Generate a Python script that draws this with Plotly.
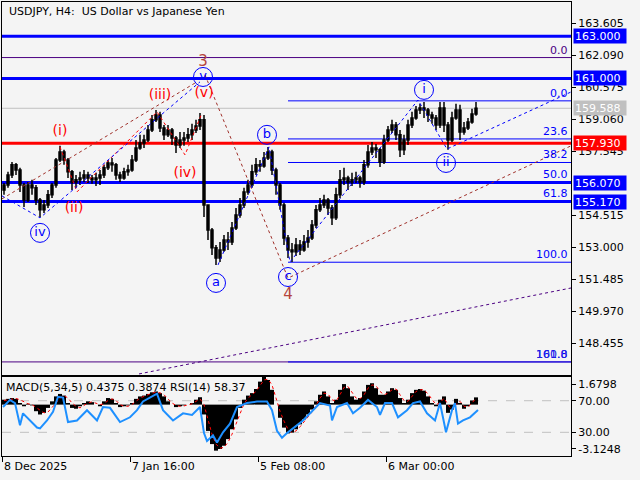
import plotly.graph_objects as go

# ---------------- data ----------------
opens = [155.72,155.96,156.43,156.91,156.67,155.96,155.25,155.96,155.82,155.25,
         154.78,155.01,155.49,155.96,157.14,157.52,157.14,156.58,156.10,156.20,
         156.29,156.43,156.29,156.20,156.29,156.43,156.77,157.00,156.91,156.43,
         156.29,156.58,156.67,157.14,157.71,157.95,158.09,158.56,159.04,159.27,
         158.66,158.33,158.56,158.18,157.85,158.09,158.18,158.33,158.56,158.75,
         159.04,155.01,153.83,152.98,152.50,152.88,153.35,153.26,153.92,154.54,
         155.01,155.63,155.96,156.58,156.91,156.86,157.24,157.52,156.67,155.96,
         155.01,153.45,152.88,152.79,153.12,152.88,153.26,153.45,154.06,154.78,
         155.01,155.25,154.87,154.40,155.49,156.20,156.29,156.10,156.20,156.29,
         156.10,156.91,157.52,157.71,157.62,157.05,158.09,158.56,158.80,158.33,
         157.62,158.09,158.80,159.13,159.51,159.60,159.51,159.27,159.13,158.80,
         159.60,158.80,158.09,159.13,159.51,158.47,158.66,158.94,159.32]
highs = [156.05,156.58,157.05,157.00,156.77,156.05,156.10,156.20,155.96,155.34,
         155.25,155.72,156.05,157.24,157.81,157.62,157.24,156.67,156.43,156.58,
         156.67,156.58,156.43,156.53,156.67,156.91,157.14,157.24,157.00,156.58,
         156.77,156.91,157.38,158.09,158.33,158.33,158.80,159.27,159.51,159.42,
         158.80,158.80,158.66,158.28,158.47,158.47,158.66,158.85,159.04,159.37,
         159.27,155.01,153.92,153.12,153.26,153.59,153.73,154.21,154.87,155.34,
         155.82,156.20,156.91,157.24,157.14,157.52,157.76,157.62,156.77,156.05,
         155.11,153.59,153.21,153.45,153.35,153.59,153.83,154.30,155.01,155.34,
         155.49,155.34,155.01,155.82,156.67,156.77,156.39,156.53,156.58,156.39,
         157.14,157.85,157.99,157.90,157.71,158.33,158.75,159.04,158.94,158.56,
         158.33,159.04,159.42,159.70,159.80,159.89,159.60,159.42,159.27,159.89,
         159.89,158.94,159.42,159.80,159.75,158.94,159.13,159.56,159.89]
lows = [155.49,155.82,156.29,156.43,155.63,154.92,155.15,155.49,155.01,154.44,
        154.63,154.87,155.34,155.82,157.05,156.91,156.29,155.72,155.82,155.96,
        156.10,156.05,156.01,155.91,155.96,156.29,156.67,156.58,156.20,156.10,
        156.20,156.39,156.58,157.05,157.62,157.71,157.99,158.47,158.94,158.47,
        158.09,158.23,157.85,157.47,157.71,157.81,157.99,158.09,158.42,158.56,
        154.44,153.35,152.64,152.17,152.31,152.79,152.88,153.12,153.83,154.40,
        154.87,155.49,155.82,156.43,156.58,156.77,157.14,156.43,155.49,154.78,
        153.12,152.50,152.31,152.60,152.64,152.79,152.98,153.35,153.92,154.68,
        154.87,154.54,154.06,154.30,155.34,155.96,155.72,155.91,156.05,155.82,
        155.96,156.77,157.38,157.24,156.81,156.95,157.99,158.42,158.09,157.28,
        157.38,157.85,158.66,159.04,159.32,159.13,158.94,158.85,158.56,158.66,
        158.47,157.62,157.99,159.04,158.09,158.33,158.56,158.85,159.23]
closes = [155.96,156.43,156.91,156.67,155.96,155.25,155.96,155.82,155.25,154.78,
          155.01,155.49,155.96,157.14,157.52,157.14,156.58,156.10,156.20,156.29,
          156.43,156.29,156.20,156.29,156.43,156.77,157.00,156.91,156.43,156.29,
          156.58,156.67,157.14,157.71,157.95,158.09,158.56,159.04,159.27,158.66,
          158.33,158.56,158.18,157.85,158.09,158.18,158.33,158.56,158.75,159.04,
          155.01,153.83,152.98,152.50,152.88,153.35,153.26,153.92,154.54,155.01,
          155.63,155.96,156.58,156.91,156.86,157.24,157.52,156.67,155.96,155.01,
          153.45,152.88,152.79,153.12,152.88,153.26,153.45,154.06,154.78,155.01,
          155.25,154.87,154.40,155.49,156.20,156.29,156.10,156.20,156.29,156.10,
          156.91,157.52,157.71,157.62,157.05,158.09,158.56,158.80,158.33,157.62,
          158.09,158.80,159.13,159.51,159.60,159.51,159.27,159.13,158.80,159.60,
          158.80,158.09,159.13,159.51,158.47,158.66,158.94,159.32,159.59]

macd_hist = [0.30,0.35,0.40,0.35,0.10,-0.10,0.05,-0.05,-0.40,-0.60,
             -0.50,-0.20,0.20,0.50,0.65,0.55,0.10,-0.20,-0.25,-0.10,
             0.10,0.20,0.15,0.00,-0.10,0.20,0.40,0.35,0.10,-0.15,
             -0.10,-0.05,0.10,0.35,0.50,0.55,0.65,0.75,0.80,0.70,
             0.50,0.20,0.00,-0.15,-0.10,-0.05,0.00,0.10,0.30,0.45,
             -0.60,-1.60,-2.40,-2.80,-2.70,-2.50,-2.10,-1.50,-0.90,-0.20,
             0.30,0.55,0.70,0.95,1.40,1.68,1.50,0.90,0.00,-0.80,
             -1.40,-1.75,-1.70,-1.50,-1.20,-0.90,-0.60,-0.30,0.20,0.60,
             0.80,0.50,0.10,0.30,0.90,1.25,1.00,0.50,0.30,0.40,
             0.80,1.20,1.30,1.00,0.60,0.60,0.80,1.00,0.90,0.40,
             0.10,0.30,0.70,0.90,0.95,0.85,0.50,0.10,-0.10,0.30,
             0.50,-0.50,-0.30,0.35,0.10,-0.25,-0.10,0.25,0.44]
macd_signal = [0.25,0.30,0.35,0.37,0.30,0.15,0.05,0.00,-0.15,-0.35,
               -0.50,-0.45,-0.20,0.10,0.40,0.55,0.40,0.10,-0.10,-0.20,
               -0.05,0.10,0.17,0.10,0.00,0.05,0.25,0.35,0.25,0.00,
               -0.10,-0.10,0.00,0.20,0.40,0.50,0.60,0.70,0.75,0.72,
               0.60,0.35,0.10,-0.05,-0.10,-0.08,-0.03,0.05,0.20,0.35,
               0.00,-0.90,-1.80,-2.40,-2.65,-2.60,-2.30,-1.80,-1.20,-0.50,
               0.05,0.40,0.60,0.80,1.15,1.50,1.55,1.20,0.40,-0.40,
               -1.00,-1.50,-1.70,-1.60,-1.35,-1.05,-0.75,-0.45,-0.05,0.40,
               0.70,0.65,0.30,0.20,0.60,1.05,1.10,0.75,0.40,0.35,
               0.60,1.00,1.20,1.15,0.80,0.60,0.70,0.90,0.95,0.60,
               0.25,0.20,0.50,0.80,0.90,0.90,0.65,0.30,0.00,0.10,
               0.40,0.00,-0.35,0.00,0.20,-0.10,-0.15,0.10,0.39]

rsi_x = [1,8,13,18,21,28,35,38,45,51,56,61,66,75,85,95,101,108,118,128,
         135,141,155,161,171,181,190,198,202,205,211,215,221,228,235,245,255,265,270,275,
         280,285,291,301,311,318,328,330,335,345,351,358,366,375,378,383,390,396,405,411,
         418,425,433,438,444,450,453,456,461,468,476]
rsi_v = [62,71,67,39,54,45,36,35,45,56,75,74,43,45,58,45,62,61,43,49,
         58,69,79,58,45,54,52,62,29,19,26,17,30,41,62,67,69,69,58,32,
         23,29,35,45,58,67,64,45,62,67,54,61,71,62,52,67,67,49,58,67,
         69,54,45,67,30,58,67,41,45,49,58.37]

time_ticks = [0, 128, 256, 384]
time_labels = ["8 Dec 2025", "7 Jan 16:00", "5 Feb 08:00", "6 Mar 00:00"]

price_ticks = [163.605, 162.090, 160.575, 159.060, 157.545,
               154.515, 153.000, 151.485, 149.970, 148.455]
sub_ticks = [91.1, 70, 30, 8.9]
sub_labels = ["1.6798", "70.00", "30.00", "-3.1248"]

level_prices = [163.000, 161.000, 159.588, 157.930, 156.070, 155.170]
level_colors = ["#0000ff", "#0000ff", "#c0c0c0", "#ff0000", "#0000ff", "#0000ff"]
level_widths = [3, 3, 1, 3, 3, 3]

fib_high = 159.94
fib_low = 152.30
fib_levels = [0.0, 23.6, 38.2, 50.0, 61.8, 100.0, 161.8]
fib_start = 286
purple_prices = [161.99, 147.58]
purple_labels = ["0.0", "100.0"]

# wave connector lines (bar index, price)
brown_a = ([0, 195], [155.30, 160.84])
brown_b = ([203, 286, 569], [161.17, 151.55, 157.81])
red_waves = ([58, 75, 155, 183, 200], [157.76, 155.63, 159.42, 157.38, 159.37])
blue_waves1 = ([0, 38, 198], [155.44, 154.40, 160.84])
blue_waves2 = ([216, 267, 288, 416, 445, 569], [152.17, 157.76, 152.31, 159.98, 157.66, 160.36])
purple_trend = ([137, 569], [147.01, 151.08])

red_labels = ["(i)", "(ii)", "(iii)", "(iv)", "(v)"]
red_lx = [58, 72, 158, 183, 202]
red_ly = [158.47, 154.82, 160.17, 156.48, 160.27]
big_labels = ["3", "4"]
big_lx = [201, 286]
big_ly = [161.78, 150.75]
circ_labels = ["iv", "v", "a", "b", "c", "i", "ii"]
circ_lx = [38, 201, 214, 265, 286, 422, 444]
circ_ly = [153.69, 161.07, 151.32, 158.33, 151.60, 160.46, 157.00]

# ---------------- figure ----------------
BG = "#f4f4f4"
FONT = "DejaVu Sans"
slot_x = [2 + 4 * i for i in range(len(closes))]

fig = go.Figure()

fig.add_trace(go.Candlestick(
    x=slot_x, open=opens, high=highs, low=lows, close=closes,
    increasing=dict(line=dict(color="black", width=1.5), fillcolor="black"),
    decreasing=dict(line=dict(color="black", width=1.5), fillcolor="black"),
    whiskerwidth=0, hoverinfo="none", showlegend=False, xaxis="x", yaxis="y"))


def add_line(pts, color, dash="dot", width=1):
    fig.add_trace(go.Scatter(x=pts[0], y=pts[1], mode="lines",
                             line=dict(color=color, width=width, dash=dash),
                             hoverinfo="skip", showlegend=False,
                             xaxis="x", yaxis="y"))


add_line(purple_trend, "#4b0082")
add_line(brown_a, "#a0302a")
add_line(brown_b, "#a0302a")
add_line(red_waves, "#ff0000")
add_line(blue_waves1, "#0000ff")
add_line(blue_waves2, "#0000ff")

fig.add_trace(go.Scatter(x=red_lx, y=red_ly, mode="text", text=red_labels,
                         textfont=dict(color="#ff0000", size=14, family=FONT),
                         hoverinfo="skip", showlegend=False, xaxis="x", yaxis="y"))
fig.add_trace(go.Scatter(x=big_lx, y=big_ly, mode="text", text=big_labels,
                         textfont=dict(color="#b5453c", size=15, family=FONT),
                         hoverinfo="skip", showlegend=False, xaxis="x", yaxis="y"))
fig.add_trace(go.Scatter(x=circ_lx, y=circ_ly, mode="markers+text", text=circ_labels,
                         textposition="middle center",
                         textfont=dict(color="#0000ff", size=13, family=FONT),
                         marker=dict(symbol="circle-open", size=19, color="#0000ff",
                                     line=dict(width=1)),
                         hoverinfo="skip", showlegend=False, xaxis="x", yaxis="y"))

# sub panel: MACD (base axis) and RSI (overlay axis)
fig.add_trace(go.Bar(x=slot_x, y=macd_hist, width=4,
                     marker=dict(color="black", line=dict(width=0)),
                     hoverinfo="skip", showlegend=False, xaxis="x2", yaxis="y2"))
fig.add_trace(go.Scatter(x=slot_x, y=macd_signal, mode="lines",
                         line=dict(color="#ff0000", width=1, dash="dot"),
                         hoverinfo="skip", showlegend=False, xaxis="x2", yaxis="y2"))
fig.add_trace(go.Scatter(x=rsi_x, y=rsi_v, mode="lines",
                         line=dict(color="#1e90ff", width=2),
                         hoverinfo="skip", showlegend=False, xaxis="x2", yaxis="y3"))

shapes = []
annotations = []

# purple fib lines (full width)
for pp in purple_prices:
    shapes.append(dict(type="line", xref="paper", x0=0, x1=1, yref="y", y0=pp, y1=pp,
                       line=dict(color="#4b0082", width=1), layer="below"))
# blue fib lines
fib_prices = [fib_high - (fib_high - fib_low) * lv / 100.0 for lv in fib_levels]
for fp in fib_prices:
    shapes.append(dict(type="line", xref="x", x0=fib_start, x1=569, yref="y", y0=fp, y1=fp,
                       line=dict(color="#0000ff", width=1), layer="below"))
# horizontal levels
for lp, lc, lw in zip(level_prices, level_colors, level_widths):
    shapes.append(dict(type="line", xref="paper", x0=0, x1=1, yref="y", y0=lp, y1=lp,
                       line=dict(color=lc, width=lw), layer="below"))
# RSI 70 / 30 dashed
for v in [70, 30]:
    shapes.append(dict(type="line", xref="paper", x0=0, x1=1, yref="y3", y0=v, y1=v,
                       line=dict(color="#c0c0c0", width=1, dash="dash"), layer="below"))

# fib labels
for lv, fp in zip(fib_levels, fib_prices):
    annotations.append(dict(xref="x", yref="y", x=567, y=fp, text=f"{lv:.1f}",
                            xanchor="right", yanchor="bottom", showarrow=False,
                            font=dict(color="#0000ff", size=11, family=FONT),
                            borderpad=0))
annotations.append(dict(xref="x", yref="y", x=567, y=purple_prices[0], text=purple_labels[0],
                        xanchor="right", yanchor="bottom", showarrow=False,
                        font=dict(color="#4b0082", size=11, family=FONT), borderpad=0))
annotations.append(dict(xref="x", yref="y", x=567, y=purple_prices[1], text=purple_labels[1],
                        xanchor="right", yanchor="bottom", showarrow=False,
                        font=dict(color="#2020e0", size=11, family=FONT), borderpad=0))

# price boxes on the right
for lp, lc in zip(level_prices, level_colors):
    annotations.append(dict(xref="paper", yref="y", x=1, y=lp, xshift=2,
                            text=f"{lp:.3f}", xanchor="left", yanchor="middle",
                            showarrow=False, bgcolor=lc, width=50, height=12,
                            align="left", borderpad=1,
                            font=dict(color="white", size=11, family=FONT)))

# title and indicator header
annotations.append(dict(xref="paper", yref="paper", x=0.0088, y=0.978,
                        text="USDJPY, H4:\u00a0\u00a0US Dollar vs Japanese Yen",
                        xanchor="left", yanchor="middle", showarrow=False,
                        font=dict(color="black", size=11, family=FONT)))
annotations.append(dict(xref="paper", yref="paper", x=0.004, y=0.1498,
                        text="MACD(5,34,5) 0.4375 0.3874 RSI(14) 58.37",
                        xanchor="left", yanchor="middle", showarrow=False,
                        font=dict(color="black", size=11, family=FONT)))
# time labels
for tx, tl in zip(time_ticks, time_labels):
    annotations.append(dict(xref="x2", yref="paper", x=tx, y=-0.024, text=tl,
                            xanchor="left", yanchor="middle", showarrow=False,
                            font=dict(color="black", size=11, family=FONT)))

axis_common = dict(showgrid=False, zeroline=False, showline=True, mirror=True,
                   linecolor="black", linewidth=1)

fig.update_layout(
    width=640, height=480,
    margin=dict(l=2, r=69, t=2, b=24, autoexpand=False),
    paper_bgcolor=BG, plot_bgcolor=BG,
    font=dict(family=FONT, size=11, color="black"),
    showlegend=False, hovermode=False, dragmode=False,
    shapes=shapes, annotations=annotations,
    xaxis=dict(domain=[0, 1], anchor="y", range=[0, 569], showticklabels=False,
               ticks="", rangeslider=dict(visible=False), **axis_common),
    yaxis=dict(domain=[0.1784, 1], anchor="x", side="right", range=[146.96, 164.62],
               tickvals=price_ticks, ticktext=[f"{t:.3f}" for t in price_ticks],
               ticks="outside", ticklen=4, tickcolor="black",
               tickfont=dict(size=11, color="black", family=FONT), **axis_common),
    xaxis2=dict(domain=[0, 1], anchor="y2", range=[0, 569], tickvals=time_ticks,
                showticklabels=False, ticks="outside", ticklen=5, tickcolor="black",
                **axis_common),
    yaxis2=dict(domain=[0, 0.174], anchor="x2", range=[-3.1248, 1.6798],
                showticklabels=False, ticks="", **axis_common),
    yaxis3=dict(overlaying="y2", anchor="x2", side="right", range=[0, 100],
                tickvals=sub_ticks, ticktext=sub_labels, ticks="outside", ticklen=4,
                tickcolor="black", showgrid=False, zeroline=False, showline=False,
                tickfont=dict(size=11, color="black", family=FONT)),
)

fig.write_html("out.html",
               config={"displayModeBar": False, "staticPlot": True},
               post_script="document.body.style.margin='0px';"
                           "document.body.style.overflow='hidden';"
                           "document.body.style.background='#f4f4f4';")
